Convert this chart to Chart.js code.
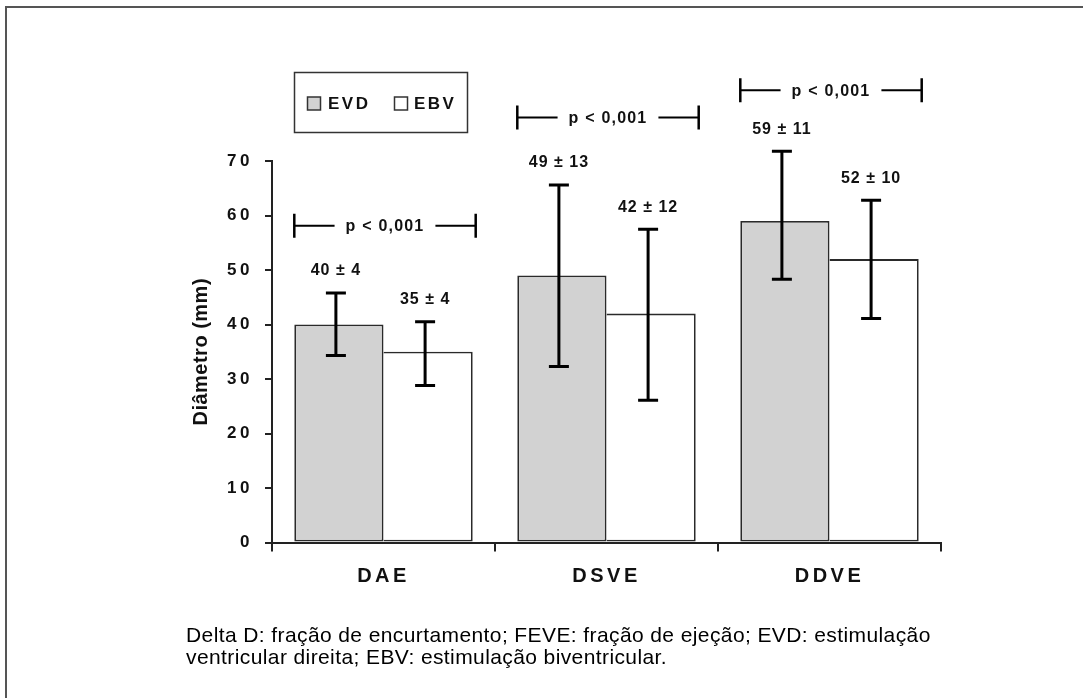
<!DOCTYPE html>
<html>
<head>
<meta charset="utf-8">
<script src="https://cdn.jsdelivr.net/npm/chart.js@4.4.1/dist/chart.umd.min.js"></script>
<style>
  html, body { margin: 0; padding: 0; background: #fff; }
  canvas { display: block; }
</style>
</head>
<body>
<canvas id="diamChart" width="1083" height="698"></canvas>
<script>
// data
const categories = ["DAE", "DSVE", "DDVE"];
const evdValues = [40, 49, 59];
const ebvValues = [35, 42, 52];
const evdLow = [34.3, 32.3, 48.3];
const evdHigh = [45.8, 65.6, 71.8];
const ebvLow = [28.8, 26.1, 41.1];
const ebvHigh = [40.5, 57.5, 62.8];
const evdLabels = ["40 ± 4", "49 ± 13", "59 ± 11"];
const ebvLabels = ["35 ± 4", "42 ± 12", "52 ± 10"];
const pLabels = ["p < 0,001", "p < 0,001", "p < 0,001"];
const pLevels = [58.1, 78, 83];
const yTicks = [0, 10, 20, 30, 40, 50, 60, 70];
const caption = [
  "Delta D: fração de encurtamento; FEVE: fração de ejeção; EVD: estimulação",
  "ventricular direita; EBV: estimulação biventricular."
];

const FONT = "'Liberation Sans', Arial, sans-serif";
const INK = "#111";

// error bars, value tags, p brackets, legend box, caption
const overlay = {
  id: "overlay",
  beforeDraw(chart) {
    const ctx = chart.ctx;
    ctx.save();
    ctx.fillStyle = "#fff";
    ctx.fillRect(0, 0, chart.width, chart.height);
    ctx.restore();
    ctx.letterSpacing = "0.5px"; // y title
  },
  afterDatasetsDraw(chart) {
    const { ctx, scales: { y } } = chart;
    ctx.save();
    chart.data.datasets.forEach((ds, i) => {
      chart.getDatasetMeta(i).data.forEach((bar, j) => {
        const x = bar.x - 3;
        const top = y.getPixelForValue(ds.high[j]);
        const bottom = y.getPixelForValue(ds.low[j]);
        ctx.strokeStyle = "#000";
        ctx.lineWidth = 3;
        ctx.beginPath();
        ctx.moveTo(x, top); ctx.lineTo(x, bottom);
        ctx.moveTo(x - 10, top); ctx.lineTo(x + 10, top);
        ctx.moveTo(x - 10, bottom); ctx.lineTo(x + 10, bottom);
        ctx.stroke();
        ctx.font = "bold 16px " + FONT;
        ctx.letterSpacing = "1px";
        ctx.fillStyle = INK;
        ctx.textAlign = "center";
        ctx.textBaseline = "middle";
        ctx.fillText(ds.tags[j], x, top - 22);
      });
    });
    ctx.restore();
    ctx.letterSpacing = "3.5px"; // tick labels come next
  },
  afterDraw(chart) {
    const { ctx, scales: { y } } = chart;
    ctx.letterSpacing = "0px";
    ctx.save();
    const m0 = chart.getDatasetMeta(0).data;
    const m1 = chart.getDatasetMeta(1).data;

    // p brackets
    ctx.font = "bold 16px " + FONT;
    ctx.letterSpacing = "1.2px";
    ctx.textAlign = "center";
    ctx.textBaseline = "middle";
    ctx.fillStyle = INK;
    ctx.strokeStyle = "#000";
    pLabels.forEach((txt, j) => {
      const x0 = m0[j].x - m0[j].width / 2;
      const x1 = m1[j].x + m1[j].width / 2 + 3;
      const yb = y.getPixelForValue(pLevels[j]);
      const cx = (x0 + x1) / 2;
      const half = ctx.measureText(txt).width / 2 + 11;
      ctx.lineWidth = 2;
      ctx.beginPath();
      ctx.moveTo(x0, yb); ctx.lineTo(cx - half, yb);
      ctx.moveTo(cx + half, yb); ctx.lineTo(x1, yb);
      ctx.stroke();
      ctx.lineWidth = 2.5;
      ctx.beginPath();
      ctx.moveTo(x0, yb - 12); ctx.lineTo(x0, yb + 12);
      ctx.moveTo(x1, yb - 12); ctx.lineTo(x1, yb + 12);
      ctx.stroke();
      ctx.fillText(txt, cx, yb + 1);
    });

    // legend box
    ctx.lineWidth = 1.5;
    ctx.strokeStyle = "#333";
    ctx.strokeRect(294.5, 72.5, 173, 60);
    ctx.font = "bold 17px " + FONT;
    ctx.letterSpacing = "2.5px";
    ctx.textAlign = "left";
    const items = [[307.5, 328], [394.5, 414]];
    chart.data.datasets.forEach((ds, i) => {
      const [sx, tx] = items[i];
      ctx.fillStyle = ds.backgroundColor;
      ctx.fillRect(sx, 97, 13, 13);
      ctx.strokeRect(sx, 97, 13, 13);
      ctx.fillStyle = INK;
      ctx.fillText(ds.label, tx, 104);
    });

    // caption
    ctx.font = "21px " + FONT;
    ctx.letterSpacing = "0.4px";
    ctx.fillStyle = "#000";
    caption.forEach((line, k) => ctx.fillText(line, 186, 636 + k * 22));

    // outer frame
    ctx.letterSpacing = "0px";
    ctx.lineWidth = 2;
    ctx.strokeStyle = "#555";
    ctx.strokeRect(6, 7, 1200, 800);
    ctx.restore();
    ctx.letterSpacing = "0px";
  }
};

new Chart(document.getElementById("diamChart"), {
  type: "bar",
  data: {
    labels: categories,
    datasets: [
      {
        label: "EVD", data: evdValues, low: evdLow, high: evdHigh, tags: evdLabels,
        backgroundColor: "#d2d2d2", borderColor: "#2a2a2a", borderWidth: 1.8,
        borderSkipped: false, categoryPercentage: 0.8, barPercentage: 1.0
      },
      {
        label: "EBV", data: ebvValues, low: ebvLow, high: ebvHigh, tags: ebvLabels,
        backgroundColor: "#ffffff", borderColor: "#2a2a2a", borderWidth: 1.8,
        borderSkipped: "left", categoryPercentage: 0.8, barPercentage: 1.0
      }
    ]
  },
  options: {
    responsive: false,
    animation: false,
    events: [],
    layout: { padding: { left: 189, right: 142, top: 161, bottom: 115.5 } },
    plugins: {
      legend: { display: false },
      tooltip: { enabled: false }
    },
    scales: {
      x: {
        grid: { drawOnChartArea: false, tickLength: 9, color: "#222", lineWidth: 2 },
        border: { color: "#222", width: 2 },
        ticks: { color: INK, font: { family: FONT, size: 20, weight: "bold" }, padding: 13, z: 1 },
        afterFit: (s) => { s.height = 40; }
      },
      y: {
        min: 0,
        max: 70,
        afterBuildTicks: (s) => { s.ticks = yTicks.map((v) => ({ value: v })); },
        grid: { drawOnChartArea: false, tickLength: 7, color: "#222", lineWidth: 2 },
        border: { color: "#222", width: 2 },
        ticks: { color: INK, font: { family: FONT, size: 17, weight: "bold" }, padding: 12, z: 1 },
        title: {
          display: true, text: "Diâmetro (mm)", color: INK, padding: 0,
          font: { family: FONT, size: 20, weight: "bold" }
        },
        afterFit: (s) => { s.width = 83; }
      }
    }
  },
  plugins: [overlay]
});
</script>
</body>
</html>
